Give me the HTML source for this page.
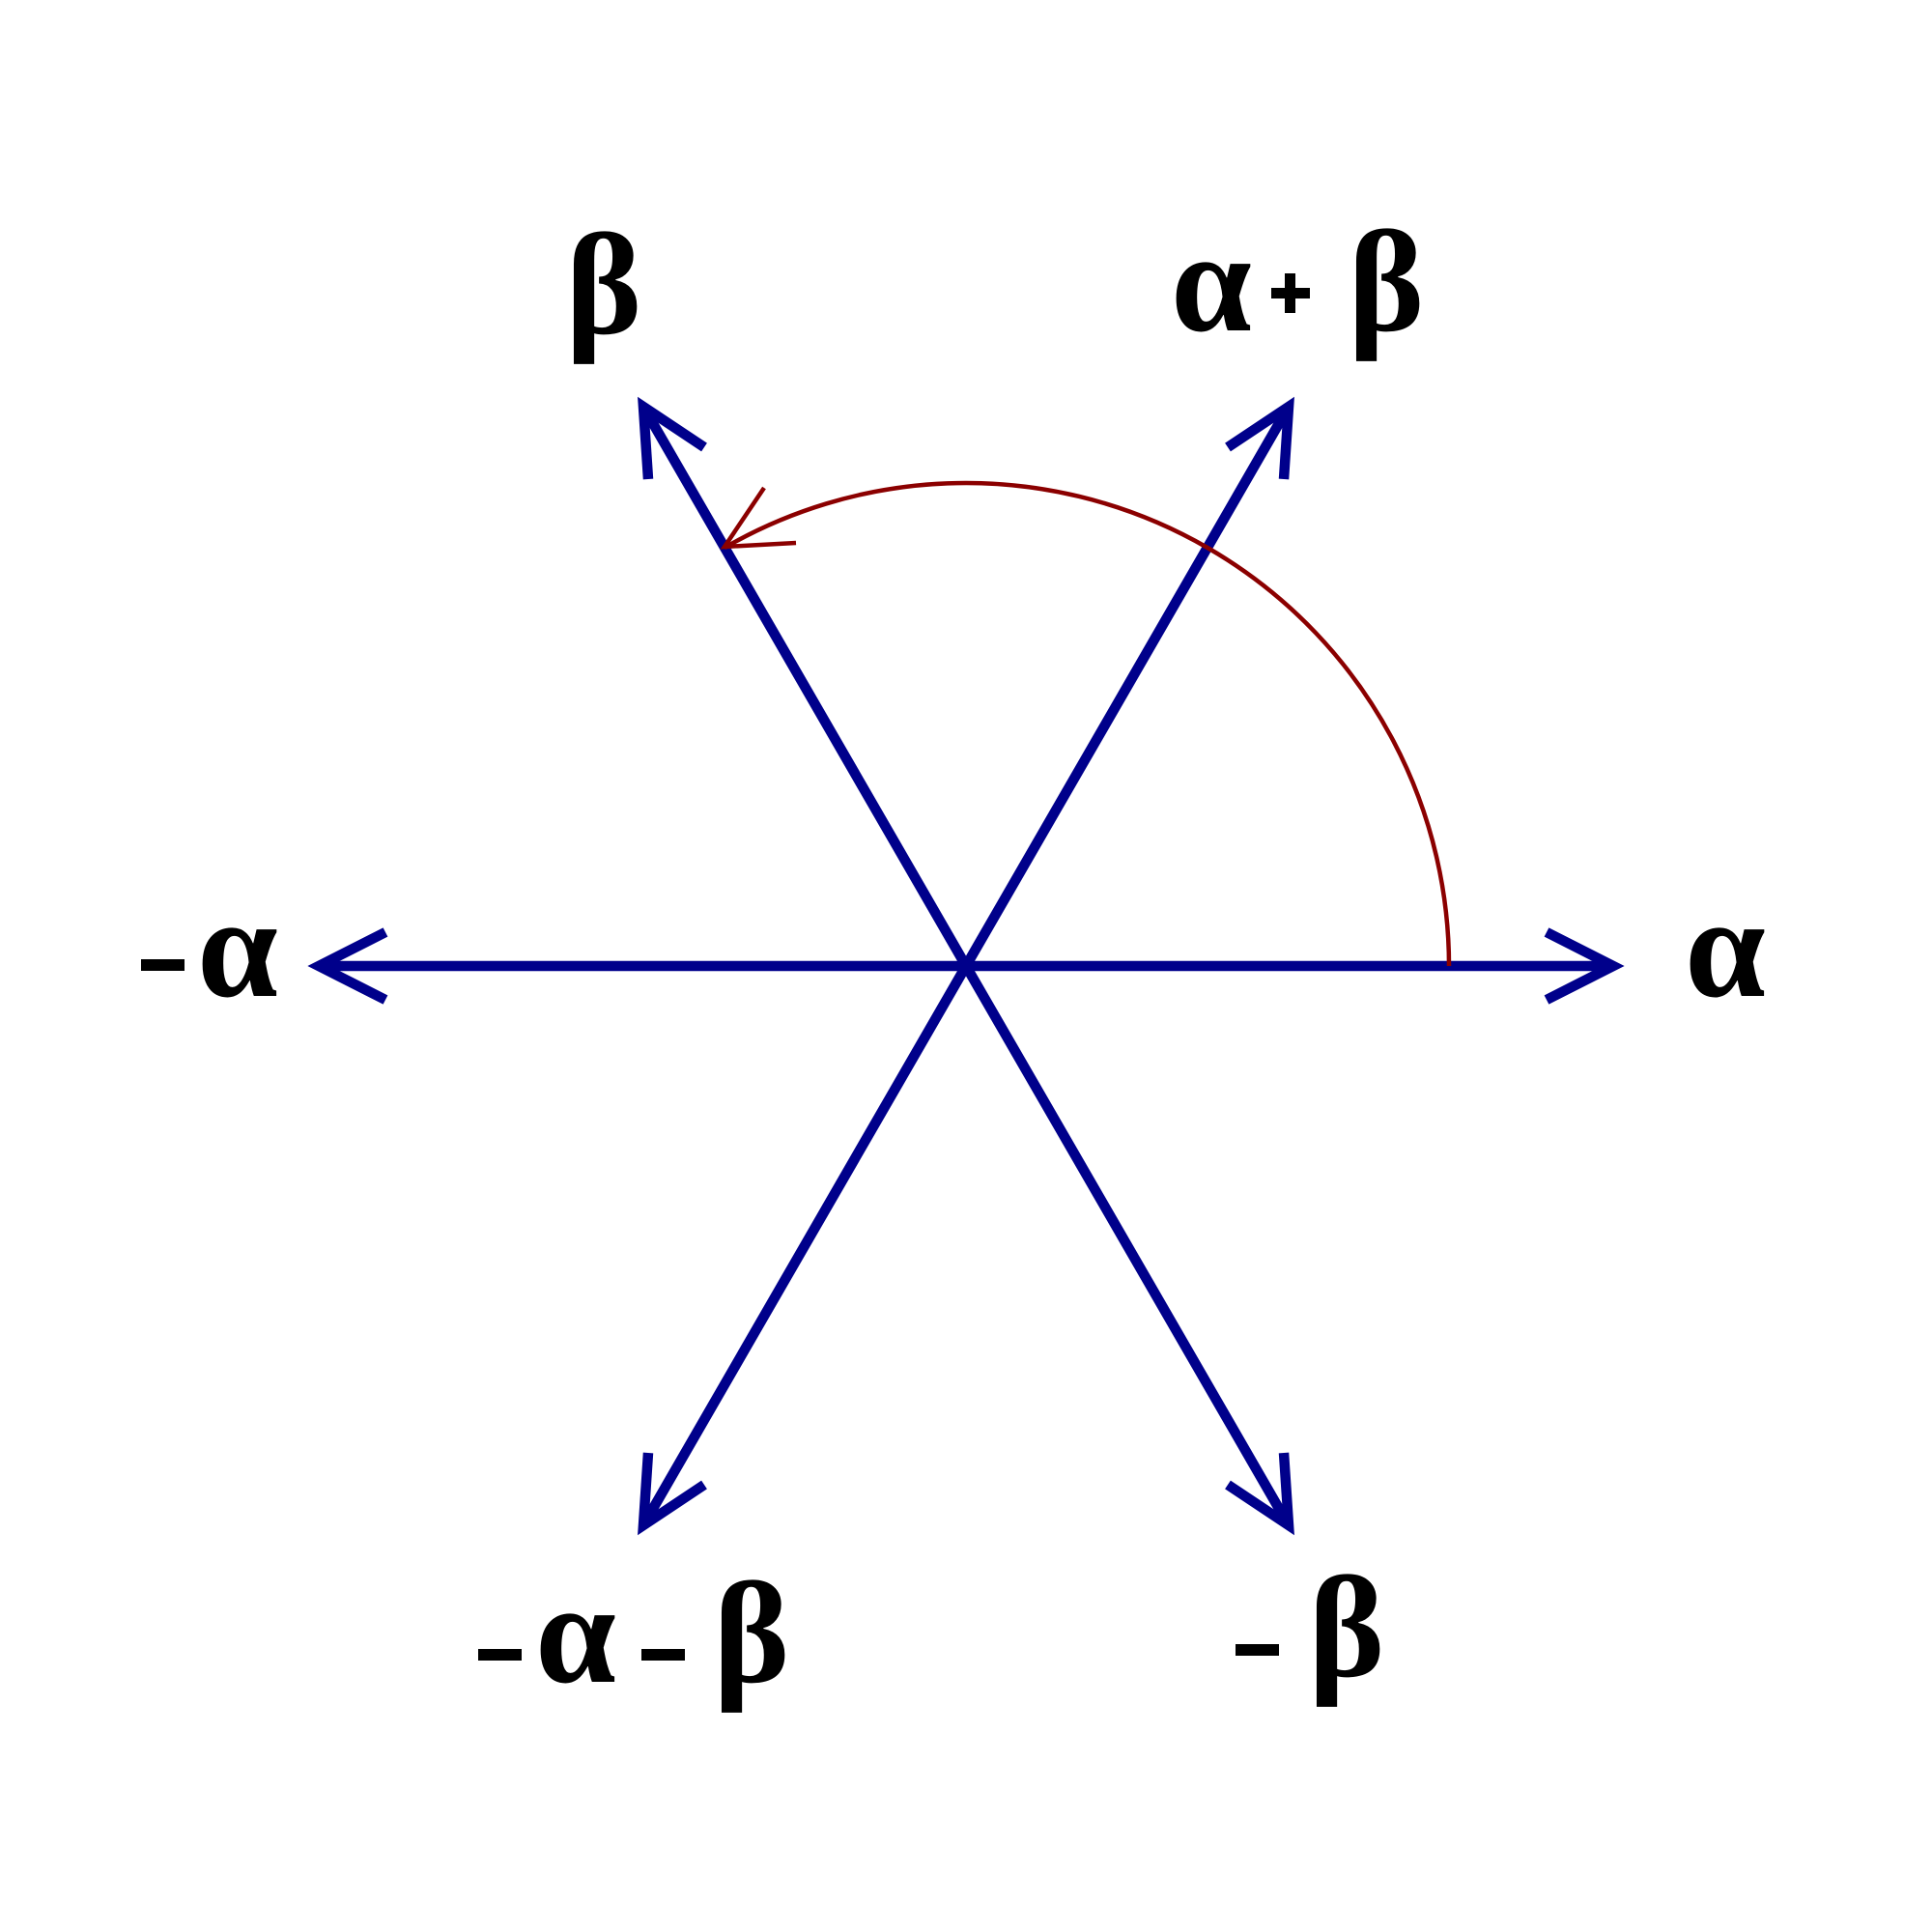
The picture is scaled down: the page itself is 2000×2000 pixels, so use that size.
<!DOCTYPE html>
<html><head><meta charset="utf-8"><style>html,body{margin:0;padding:0;background:#fff}svg{display:block}</style></head>
<body>
<svg width="2000" height="2000" viewBox="0 0 2000 2000" xmlns="http://www.w3.org/2000/svg">
<rect width="2000" height="2000" fill="#fff"/>
<g stroke="#00008b" stroke-width="10.5" fill="none">
<line x1="330" y1="1000" x2="1670" y2="1000"/>
<line x1="666" y1="421" x2="1334" y2="1579"/>
<line x1="1334" y1="421" x2="666" y2="1579"/>
<polyline points="1601,965 1670,1000 1601,1035"/>
<polyline points="399,965 330,1000 399,1035"/>
<polyline points="729,463 666,421 671,496"/>
<polyline points="1271,463 1334,421 1329,496"/>
<polyline points="729,1537 666,1579 671,1504"/>
<polyline points="1271,1537 1334,1579 1329,1504"/>
</g>
<g stroke="#8b0000" stroke-width="4.5" fill="none">
<path d="M1500,1000 A500,500 0 0 0 750,567"/>
<polyline points="791,505 750,566 824,562"/>
</g>
<g fill="#000">
<rect x="146" y="993" width="45" height="12"/>
<rect x="495" y="1707" width="45" height="12"/>
<rect x="664" y="1707" width="45" height="12"/>
<rect x="1279" y="1702" width="45" height="12"/>
<rect x="1316" y="298" width="40" height="11"/>
<rect x="1330" y="283" width="11" height="41"/>
</g>
<g font-family="Liberation Serif, DejaVu Serif, serif" font-size="150" font-weight="bold" text-anchor="middle" fill="#000">
<text x="625" y="345">β</text>
<text x="1254" y="342">α</text>
<text x="1435" y="342">β</text>
<text x="1786" y="1031">α</text>
<text x="246" y="1031">α</text>
<text x="596" y="1741">α</text>
<text x="778" y="1741">β</text>
<text x="1394" y="1735">β</text>
</g>
</svg>
</body></html>
